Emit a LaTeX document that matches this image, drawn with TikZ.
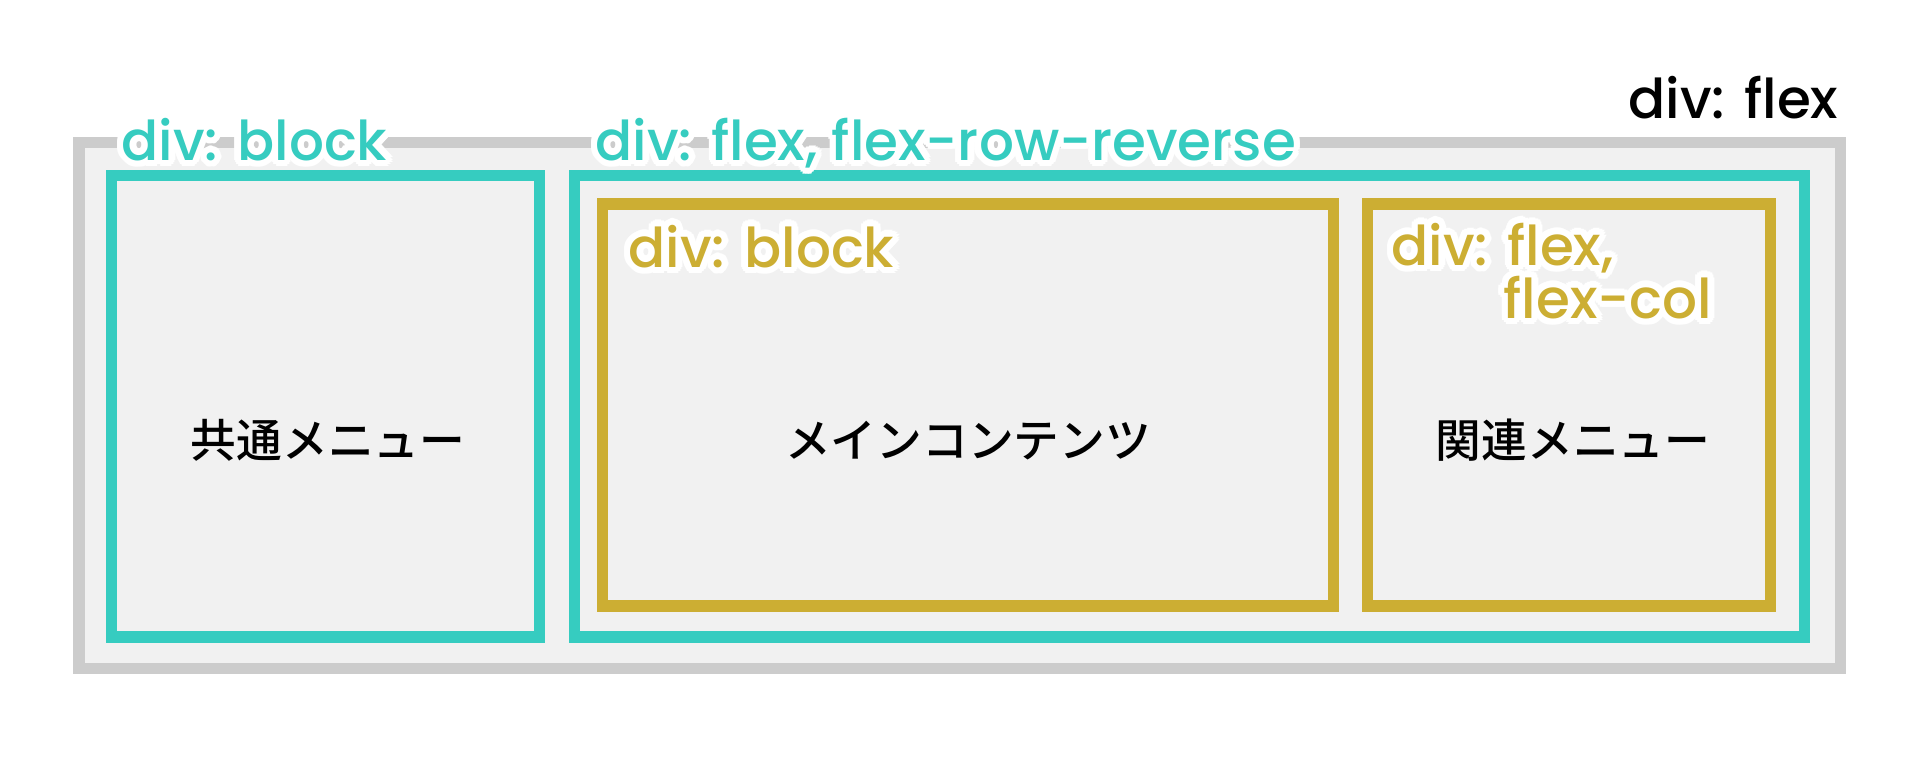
\documentclass[tikz,border=0pt]{standalone}
\usepackage{fontspec}
\setmainfont{Poppins}[UprightFont=* Medium]
\newfontfamily\jpfont{Noto Sans CJK JP}[UprightFont=* Medium]
\usepackage{contour}
\contourlength{0.065cm}

\definecolor{cssgray}{HTML}{CCCCCC}
\definecolor{cssbg}{HTML}{F1F1F1}
\definecolor{flexteal}{HTML}{36CCC0}
\definecolor{blockgold}{HTML}{CCAE33}

\tikzset{
    divbox/.style={draw=#1, line width=0.115cm, fill=cssbg},
    tag/.style={anchor=base west, inner sep=0pt, text=#1,
        font=\fontsize{15.6}{19}\selectfont},
    jplabel/.style={anchor=base, inner sep=0pt,
        font=\jpfont\fontsize{13}{16}\selectfont}
}

\begin{document}
\begin{tikzpicture}[x=0.01cm, y=-0.01cm]
    % Page frame
    \fill[white] (0,0) rectangle (1920,775);

    % Outer flex container
    \draw[divbox=cssgray] (79,142.5) rectangle (1840.5,668.5);

    % Left block and right flex row
    \draw[divbox=flexteal] (111.5,175.5) rectangle (539.5,637);
    \draw[divbox=flexteal] (574.5,175.5) rectangle (1804.5,637);

    % Inner children
    \draw[divbox=blockgold] (602.5,204) rectangle (1333.5,606);
    \draw[divbox=blockgold] (1367.5,204) rectangle (1770.5,606);

    % Box contents
    \node[jplabel] (common) at (328,457) {共通メニュー};
    \node[jplabel] (main) at (968,457) {メインコンテンツ};
    \node[jplabel] (related) at (1573,457) {関連メニュー};

    % CSS tags
    \node[tag=black] (outerTag) at (1628,118) {div: flex};
    \node[tag=flexteal] (leftTag) at (121,160) {\contour{white}{div: block}};
    \node[tag=flexteal] (rowTag) at (595,160) {\contour{white}{div: flex, flex-row-reverse}};
    \node[tag=blockgold] (mainTag) at (628,267) {\contour{white}{div: block}};
    \node[tag=blockgold] (colTag) at (1391,265) {\contour{white}{div: flex,}};
    \node[tag=blockgold] (colTagB) at (1503,318) {\contour{white}{flex-col}};
\end{tikzpicture}
\end{document}
